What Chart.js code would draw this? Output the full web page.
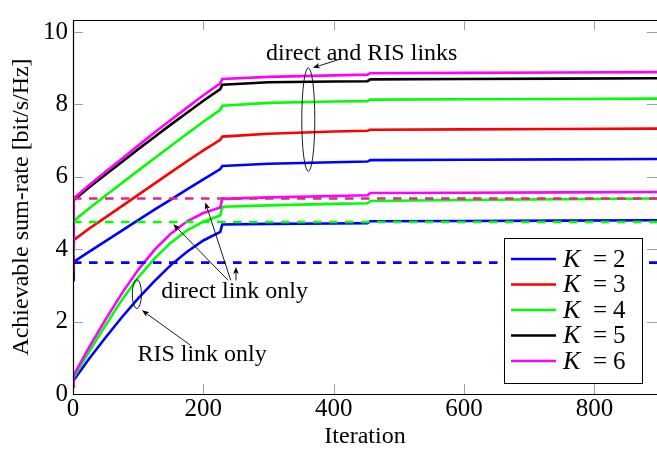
<!DOCTYPE html>
<html>
<head>
<meta charset="utf-8">
<script src="https://cdn.jsdelivr.net/npm/chart.js@4.4.1/dist/chart.umd.min.js"></script>
<style>
  html, body { margin: 0; padding: 0; background: #fff; overflow: hidden; }
  #wrap { width: 657px; height: 451px; }
</style>
</head>
<body>
<div id="wrap"><canvas id="rateChart" width="657" height="451"></canvas></div>
<script>
// iteration index where each value below was read
const iterations = [0, 1, 25, 50, 75, 100, 125, 150, 175, 200, 226, 229, 300, 400, 452, 456, 600, 750, 900];

// direct and RIS links
const bothK2 = [3.15, 3.65, 3.93, 4.22, 4.51, 4.80, 5.09, 5.37, 5.65, 5.93, 6.21, 6.30, 6.36, 6.40, 6.42, 6.46, 6.47, 6.48, 6.49];
const bothK3 = [3.47, 4.25, 4.57, 4.88, 5.19, 5.50, 5.81, 6.12, 6.43, 6.73, 7.02, 7.11, 7.19, 7.25, 7.27, 7.30, 7.31, 7.32, 7.33];
const bothK4 = [3.87, 4.78, 5.13, 5.48, 5.83, 6.17, 6.51, 6.85, 7.19, 7.52, 7.85, 7.96, 8.04, 8.08, 8.09, 8.13, 8.14, 8.15, 8.16];
const bothK5 = [4.00, 5.35, 5.71, 6.06, 6.41, 6.76, 7.10, 7.44, 7.77, 8.10, 8.42, 8.54, 8.61, 8.63, 8.64, 8.69, 8.70, 8.71, 8.72];
const bothK6 = [4.00, 5.40, 5.77, 6.14, 6.50, 6.86, 7.22, 7.57, 7.91, 8.25, 8.58, 8.70, 8.76, 8.80, 8.82, 8.86, 8.87, 8.88, 8.89];

// RIS link only
const risK2 = [0.20, 0.38, 0.98, 1.56, 2.12, 2.64, 3.12, 3.56, 3.93, 4.24, 4.48, 4.68, 4.70, 4.71, 4.72, 4.77, 4.78, 4.79, 4.80];
const risK4 = [0.25, 0.45, 1.18, 1.90, 2.60, 3.22, 3.74, 4.18, 4.52, 4.76, 4.93, 5.17, 5.21, 5.25, 5.27, 5.33, 5.36, 5.38, 5.40];
const risK6 = [0.20, 0.52, 1.30, 2.06, 2.78, 3.43, 3.98, 4.43, 4.77, 5.00, 5.15, 5.39, 5.43, 5.47, 5.49, 5.55, 5.56, 5.57, 5.58];

// direct link only (constant)
const directLevels = [3.63, 4.75, 5.40];

const xTickValues = [0, 200, 400, 600, 800];
const yTickValues = [0, 2, 4, 6, 8, 10];
const xMax = 896;
const yMax = 10.33;

const legendLabels = ['2', '3', '4', '5', '6'];

const serif = "'Liberation Serif', 'Times New Roman', serif";
const colors = { k2: '#0000ff', k3: '#ff0000', k4: '#00ff00', k5: '#000000', k6: '#ff00ff', pink: '#e5248a' };

const pts = vals => vals.map((v, i) => ({ x: iterations[i], y: v }));
const flat = v => [{ x: 0, y: v }, { x: xMax, y: v }];

const solid = (data, color, order) => ({
    data: pts(data), borderColor: color, borderWidth: 2.6, pointRadius: 0, tension: 0, fill: false, order
});
const dashed = (v, color) => ({
    data: flat(v), borderColor: color, borderWidth: 2.6, borderDash: [8.5, 7.5], pointRadius: 0, fill: false, order: 0
});

const datasets = [
    dashed(directLevels[0], colors.k2),
    dashed(directLevels[1], colors.k4),
    dashed(directLevels[2], colors.pink),
    solid(bothK6, colors.k6, 1),
    solid(risK6, colors.k6, 1),
    solid(bothK5, colors.k5, 2),
    solid(bothK4, colors.k4, 3),
    solid(risK4, colors.k4, 3),
    solid(bothK3, colors.k3, 4),
    solid(bothK2, colors.k2, 5),
    solid(risK2, colors.k2, 5)
];

// annotation anchors in data units (iteration, rate)
const notes = {
    texts: [
        { t: 'direct and RIS links', x: 443, y: 9.41 },
        { t: 'direct link only', x: 248, y: 2.82 },
        { t: 'RIS link only', x: 198, y: 1.08 }
    ],
    ellipses: [
        { x: 361, y: 7.58, rx: 10, ry: 1.43 },
        { x: 98, y: 2.76, rx: 7, ry: 0.4 }
    ],
    arrows: [
        { x1: 410, y1: 9.25, x2: 368, y2: 9.01 },
        { x1: 180, y1: 1.35, x2: 106, y2: 2.31 },
        { x1: 242, y1: 3.14, x2: 203, y2: 5.29 },
        { x1: 238, y1: 3.14, x2: 154, y2: 4.69 },
        { x1: 250, y1: 3.14, x2: 250, y2: 3.51 }
    ]
};

function arrow(ctx, x1, y1, x2, y2) {
    const a = Math.atan2(y2 - y1, x2 - x1);
    const len = 7, half = 2.8;
    const c = Math.cos(a), s = Math.sin(a);
    ctx.beginPath();
    ctx.moveTo(x1, y1);
    ctx.lineTo(x2 - c * len * 0.7, y2 - s * len * 0.7);
    ctx.stroke();
    ctx.beginPath();
    ctx.moveTo(x2, y2);
    ctx.lineTo(x2 - c * len + s * half, y2 - s * len - c * half);
    ctx.lineTo(x2 - c * len * 0.75, y2 - s * len * 0.75);
    ctx.lineTo(x2 - c * len - s * half, y2 - s * len + c * half);
    ctx.closePath();
    ctx.fill();
}

const frame = {
    id: 'frame',
    beforeDatasetsDraw(chart) {
        const { ctx, chartArea: a, scales: { x, y } } = chart;
        ctx.save();
        ctx.strokeStyle = '#a0a0a0';
        ctx.lineWidth = 1;
        ctx.beginPath();
        xTickValues.forEach(v => {
            const px = Math.round(x.getPixelForValue(v)) + 0.5;
            ctx.moveTo(px, a.bottom); ctx.lineTo(px, a.bottom - 10);
            ctx.moveTo(px, a.top); ctx.lineTo(px, a.top + 10);
        });
        yTickValues.forEach(v => {
            const py = Math.round(y.getPixelForValue(v)) + 0.5;
            ctx.moveTo(a.left, py); ctx.lineTo(a.left + 10, py);
            ctx.moveTo(a.right, py); ctx.lineTo(a.right - 10, py);
        });
        ctx.stroke();
        ctx.restore();
    },
    afterDatasetsDraw(chart) {
        const { ctx, chartArea: a, scales: { x, y } } = chart;
        ctx.save();
        // axis box (right side lies past the picture edge)
        ctx.strokeStyle = '#000';
        ctx.lineWidth = 1.2;
        ctx.beginPath();
        ctx.moveTo(a.right + 2, a.top + 0.5);
        ctx.lineTo(a.left + 0.5, a.top + 0.5);
        ctx.lineTo(a.left + 0.5, a.bottom + 0.5);
        ctx.lineTo(a.right + 2, a.bottom + 0.5);
        ctx.stroke();

        ctx.lineWidth = 0.9;
        ctx.fillStyle = '#000';
        notes.ellipses.forEach(e => {
            const cx = x.getPixelForValue(e.x), cy = y.getPixelForValue(e.y);
            const rx = Math.abs(x.getPixelForValue(e.x + e.rx) - cx);
            const ry = Math.abs(y.getPixelForValue(e.y + e.ry) - cy);
            ctx.beginPath();
            ctx.ellipse(cx, cy, rx, ry, 0, 0, Math.PI * 2);
            ctx.stroke();
        });
        notes.arrows.forEach(r => {
            arrow(ctx, x.getPixelForValue(r.x1), y.getPixelForValue(r.y1),
                  x.getPixelForValue(r.x2), y.getPixelForValue(r.y2));
        });
        ctx.font = `24px ${serif}`;
        ctx.textAlign = 'center';
        ctx.textBaseline = 'middle';
        notes.texts.forEach(n => {
            ctx.fillText(n.t, x.getPixelForValue(n.x), y.getPixelForValue(n.y));
        });
        ctx.restore();
    },
    afterDraw(chart) {
        const { ctx, chartArea: a } = chart;
        const series = [colors.k2, colors.k3, colors.k4, colors.k5, colors.k6];
        const right = a.right - 15, bottom = a.bottom - 11;
        const w = 138, h = 145;
        const left = right - w, top = bottom - h;
        ctx.save();
        ctx.fillStyle = '#fff';
        ctx.fillRect(left, top, w, h);
        ctx.strokeStyle = '#000';
        ctx.lineWidth = 1;
        ctx.strokeRect(left + 0.5, top + 0.5, w, h);
        ctx.textBaseline = 'middle';
        legendLabels.forEach((lab, i) => {
            const ry = top + 21 + i * 25.5;
            ctx.strokeStyle = series[i];
            ctx.lineWidth = 2.6;
            ctx.beginPath();
            ctx.moveTo(left + 7, ry);
            ctx.lineTo(left + 52, ry);
            ctx.stroke();
            ctx.fillStyle = '#000';
            ctx.textAlign = 'left';
            ctx.font = `italic 26px ${serif}`;
            ctx.fillText('K', left + 59, ry + 1);
            ctx.font = `25px ${serif}`;
            ctx.textAlign = 'center';
            ctx.fillText('=', left + 96, ry + 1);
            ctx.textAlign = 'left';
            ctx.fillText(lab, left + 109, ry + 1);
        });
        ctx.restore();
    }
};

new Chart(document.getElementById('rateChart'), {
    type: 'line',
    data: { datasets },
    options: {
        responsive: false,
        animation: false,
        layout: { padding: { top: 7, right: 0, bottom: 0, left: 0 } },
        plugins: { legend: { display: false }, tooltip: { enabled: false } },
        scales: {
            x: {
                type: 'linear', min: 0, max: xMax,
                grid: { display: false, drawTicks: false },
                border: { display: false },
                afterBuildTicks: s => { s.ticks = xTickValues.map(v => ({ value: v })); },
                afterFit: s => { s.height = 57; },
                ticks: { color: '#000', padding: 0, maxRotation: 0, font: { family: serif, size: 25 } },
                title: { display: true, text: 'Iteration', color: '#000', padding: { top: 0, bottom: 0 }, font: { family: serif, size: 24 } }
            },
            y: {
                type: 'linear', min: 0, max: yMax,
                grid: { display: false, drawTicks: false },
                border: { display: false },
                afterBuildTicks: s => { s.ticks = yTickValues.map(v => ({ value: v })); },
                afterFit: s => { s.width = 73; },
                ticks: { color: '#000', padding: 5, font: { family: serif, size: 25 } },
                title: { display: true, text: 'Achievable sum-rate [bit/s/Hz]', color: '#000', padding: { top: 7, bottom: 0 }, font: { family: serif, size: 24 } }
            }
        }
    },
    plugins: [frame]
});
</script>
</body>
</html>
